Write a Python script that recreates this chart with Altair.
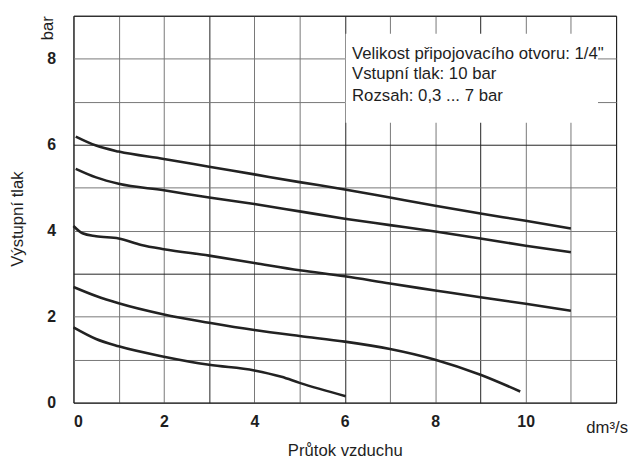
import altair as alt
import pandas as pd

# Curve data (flow dm3/s -> outlet pressure bar)
x_a = [0.05, 0.5, 1, 2, 3, 4, 5, 6, 7, 8, 9, 10, 11]
y_a = [6.19, 5.98, 5.84, 5.67, 5.49, 5.31, 5.13, 4.96, 4.77, 4.58, 4.40, 4.23, 4.05]

x_b = [0.05, 0.5, 1, 2, 3, 4, 5, 6, 7, 8, 9, 10, 11]
y_b = [5.44, 5.24, 5.09, 4.94, 4.77, 4.62, 4.45, 4.28, 4.13, 3.98, 3.82, 3.65, 3.50]

x_c = [0, 0.2, 0.5, 1, 1.5, 2, 3, 4, 5, 6, 7, 8, 9, 10, 11]
y_c = [4.11, 3.94, 3.87, 3.82, 3.67, 3.57, 3.42, 3.25, 3.08, 2.94, 2.77, 2.61, 2.45, 2.30, 2.14]

x_d = [0, 0.5, 1, 2, 3, 4, 5, 6, 7, 8, 9, 9.88]
y_d = [2.69, 2.48, 2.31, 2.05, 1.86, 1.69, 1.55, 1.42, 1.25, 1.00, 0.65, 0.26]

x_e = [0, 0.5, 1, 2, 3, 4, 4.6, 5, 6.02]
y_e = [1.75, 1.48, 1.31, 1.07, 0.88, 0.75, 0.60, 0.46, 0.15]

x_ticks = list(range(0, 13))
y_ticks = list(range(0, 10))

note_lines = ["Velikost připojovacího otvoru: 1/4\"", "Vstupní tlak: 10 bar", "Rozsah: 0,3 ... 7 bar"]
note_x = [6.16, 6.16, 6.16]
note_y = [8.0, 7.52, 7.02]

box_x = [6.02]
box_x2 = [11.6]
box_y = [6.51]
box_y2 = [8.58]

x_title = "Průtok vzduchu"
y_title = "Výstupní tlak"
x_unit = "dm³/s"
y_unit = "bar"

series = [("A", x_a, y_a), ("B", x_b, y_b), ("C", x_c, y_c), ("D", x_d, y_d), ("E", x_e, y_e)]
df = pd.DataFrame([{"s": s, "x": x, "y": y} for s, xs, ys in series for x, y in zip(xs, ys)])

FONT = "Liberation Sans"
DARK = "#222222"
TXT = "#1e1e1e"
GRID = alt.condition("datum.value % 3 === 0", alt.value("#222222"), alt.value("#777777"))

xs = alt.Scale(domain=[0, 12], nice=False, zero=False)
ys = alt.Scale(domain=[0, 9], nice=False, zero=False)

x_axis = alt.Axis(
    values=x_ticks,
    labelExpr="datum.value % 2 === 0 && datum.value <= 10 ? datum.label : ''",
    labelOverlap=False,
    title=x_title,
    grid=True, gridColor=GRID, gridWidth=1,
    ticks=False, tickSize=0, domain=False,
    labelFont=FONT, labelFontWeight="bold", labelFontSize=16, labelColor=TXT,
    labelPadding=24, labelBaseline="alphabetic",
    titleFont=FONT, titleFontSize=16.8, titleFontWeight="normal", titleColor=TXT,
    titleY=53, titleBaseline="alphabetic",
)
y_axis = alt.Axis(
    values=y_ticks,
    labelExpr="datum.value % 2 === 0 && datum.value <= 8 ? datum.label : ''",
    labelOverlap=False,
    title=y_title,
    grid=True, gridColor=GRID, gridWidth=1,
    ticks=False, tickSize=0, domain=False,
    labelFont=FONT, labelFontWeight="bold", labelFontSize=16, labelColor=TXT,
    labelPadding=18, labelBaseline="middle",
    titleFont=FONT, titleFontSize=16.8, titleFontWeight="normal", titleColor=TXT,
    titleAngle=270, titleX=-56, titleY=204.5, titleBaseline="middle", titleAlign="center",
)

curves = alt.Chart(df).mark_line(interpolate="monotone", strokeWidth=2.6, color="#222").encode(
    x=alt.X("x:Q", scale=xs, axis=x_axis),
    y=alt.Y("y:Q", scale=ys, axis=y_axis),
    detail="s:N",
)

box = alt.Chart(pd.DataFrame({"x": box_x, "x2": box_x2, "y": box_y, "y2": box_y2})).mark_rect(
    color="white", opacity=1
).encode(
    x=alt.X("x:Q", scale=xs, axis=x_axis), x2="x2",
    y=alt.Y("y:Q", scale=ys, axis=y_axis), y2="y2",
)

note = alt.Chart(pd.DataFrame({"x": note_x, "y": note_y, "t": note_lines})).mark_text(
    align="left", baseline="alphabetic", font=FONT, fontSize=16.9, color=TXT
).encode(
    x=alt.X("x:Q", scale=xs, axis=x_axis),
    y=alt.Y("y:Q", scale=ys, axis=y_axis),
    text="t:N",
)

bar_lbl = alt.Chart(pd.DataFrame({"t": [y_unit]})).mark_text(
    angle=270, align="center", baseline="middle", font=FONT, fontSize=16.8, color=TXT
).encode(x=alt.value(-26), y=alt.value(12.5), text="t:N")

unit_lbl = alt.Chart(pd.DataFrame({"t": [x_unit]})).mark_text(
    align="center", baseline="alphabetic", font=FONT, fontSize=16.8, color=TXT
).encode(x=alt.value(538), y=alt.value(421), text="t:N")

chart = alt.layer(curves, box, note, bar_lbl, unit_lbl).properties(
    width=547, height=390,
    autosize=alt.AutoSizeParams(type="none"),
    padding={"left": 66, "top": 6, "right": 12, "bottom": 57},
    background="white",
).configure_view(stroke=DARK, strokeWidth=1)

chart.save("out.html", embed_options={"renderer": "svg", "actions": False})
